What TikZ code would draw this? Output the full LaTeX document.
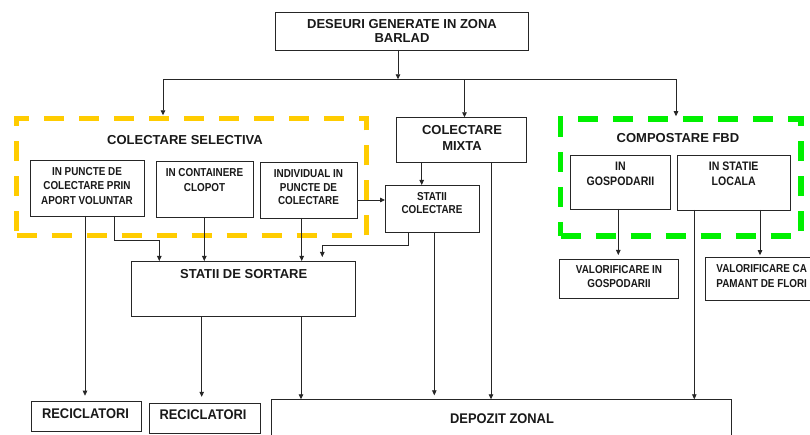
\documentclass[tikz,border=0pt]{standalone}
\usepackage{fontspec}
\setmainfont{Liberation Sans}
\newfontfamily\narrowfont[FakeStretch=0.86]{Liberation Sans}
\newfontfamily\semifont[FakeStretch=0.92]{Liberation Sans}
\usetikzlibrary{arrows.meta}
\definecolor{selorange}{RGB}{255,204,0}
\definecolor{fbdgreen}{RGB}{0,240,0}
\begin{document}
\begin{tikzpicture}[x=1pt,y=-1pt,
  bx/.style={draw=black!85, line width=0.9pt, inner sep=0pt, outer sep=0pt},
  lbl/.style={inner sep=0pt, outer sep=0pt, align=center, text=black!90},
  big/.style={lbl, font=\bfseries\fontsize{13}{14.3}\selectfont},
  sbig/.style={lbl, font=\semifont\bfseries\fontsize{14}{15}\selectfont},
  sml/.style={lbl, font=\narrowfont\bfseries\fontsize{11.5}{14}\selectfont},
  arr/.style={-{Triangle[length=5pt,width=4.5pt]}, line width=0.8pt, draw=black!85},
  plain/.style={line width=0.8pt, draw=black!85},
  grp/.style={line width=5.5pt, dash pattern=on 20pt off 15pt, inner sep=0pt, outer sep=0pt}]
\useasboundingbox (0,0) rectangle (810,435);
\fill[white] (0,0) rectangle (810,435);

% group frames
\node[grp, draw=selorange, minimum width=350pt, minimum height=117.2pt] (sel) at (191.7,176.9) {};
\node[grp, draw=fbdgreen, minimum width=240.3pt, minimum height=116.6pt] (fbd) at (680.65,177.5) {};

% boxes
\node[bx, minimum width=252.5pt, minimum height=37.7pt] (top) at (401.75,31.15) {};
\node[bx, minimum width=114pt, minimum height=56pt] (b1) at (87,188) {};
\node[bx, minimum width=97pt, minimum height=56pt] (b2) at (204.5,189.7) {};
\node[bx, minimum width=97pt, minimum height=55.5pt] (b3) at (308.5,190.25) {};
\node[bx, minimum width=130pt, minimum height=45.4pt] (mixta) at (461.7,140) {};
\node[bx, minimum width=94pt, minimum height=47.3pt] (sc) at (432,208.65) {};
\node[bx, minimum width=100pt, minimum height=53.3pt] (gosp) at (620,182.35) {};
\node[bx, minimum width=112.7pt, minimum height=54.3pt] (loc) at (733.65,182.85) {};
\node[bx, minimum width=119pt, minimum height=39.3pt] (val1) at (618.8,278.65) {};
\node[bx, minimum width=112pt, minimum height=43pt] (val2) at (761.7,279.2) {};
\node[bx, minimum width=224pt, minimum height=55.7pt] (ss) at (243.7,288.85) {};
\node[bx, minimum width=110.7pt, minimum height=29.3pt] (rec1) at (86.35,416.35) {};
\node[bx, minimum width=111.4pt, minimum height=30pt] (rec2) at (205,418.3) {};
\node[bx, minimum width=460pt, minimum height=45.7pt] (dep) at (501.7,422.15) {};

% texts
\node[big, anchor=north] (ttop) at (402,19.6) {DESEURI GENERATE IN ZONA\\BARLAD};
\node[big] (tsel) at (185,140) {COLECTARE SELECTIVA};
\node[sml, anchor=north, font=\narrowfont\bfseries\fontsize{11.5}{14.2}\selectfont] (tb1) at (87,167.6) {IN PUNCTE DE\\COLECTARE PRIN\\APORT VOLUNTAR};
\node[sml, anchor=north, font=\narrowfont\bfseries\fontsize{11.5}{14.6}\selectfont] (tb2) at (204.5,168.6) {IN CONTAINERE\\CLOPOT};
\node[sml, anchor=north, font=\narrowfont\bfseries\fontsize{11.5}{13.9}\selectfont] (tb3) at (308.5,169.2) {INDIVIDUAL IN\\PUNCTE DE\\COLECTARE};
\node[big, anchor=north, font=\bfseries\fontsize{13}{15.7}\selectfont] (tmixta) at (462,125.35) {COLECTARE\\MIXTA};
\node[sml, anchor=north, font=\narrowfont\bfseries\fontsize{11.5}{13.3}\selectfont] (tsc) at (432,192.6) {STATII\\COLECTARE};
\node[big] (tfbd) at (678,137.7) {COMPOSTARE FBD};
\node[sml, anchor=north, font=\narrowfont\bfseries\fontsize{12.3}{15}\selectfont] (tgosp) at (620.5,162.3) {IN\\GOSPODARII};
\node[sml, anchor=north, font=\narrowfont\bfseries\fontsize{12.3}{15}\selectfont] (tloc) at (733.7,162.3) {IN STATIE\\LOCALA};
\node[sml, anchor=north, font=\narrowfont\bfseries\fontsize{11.5}{13.3}\selectfont] (tval1) at (619,265.9) {VALORIFICARE IN\\GOSPODARII};
\node[sml, anchor=north, font=\narrowfont\bfseries\fontsize{11.5}{14.3}\selectfont] (tval2) at (761.7,264.9) {VALORIFICARE CA\\PAMANT DE FLORI};
\node[big] (tss) at (243.7,274) {STATII DE SORTARE};
\node[sbig] (trec1) at (85.5,413.3) {RECICLATORI};
\node[sbig] (trec2) at (203,415) {RECICLATORI};
\node[sbig] (tdep) at (502,418.3) {DEPOZIT ZONAL};

% junction coordinates
\coordinate (j) at (398,79.3);
\coordinate (jl) at (163,79.3);
\coordinate (jm) at (464.5,79.3);
\coordinate (jr) at (676,79.3);
\coordinate (k1) at (114.3,240);
\coordinate (k2) at (159.3,240);
\coordinate (k3) at (408.3,245);
\coordinate (k4) at (322.3,245);

% connectors
\draw[arr] (top.south -| j) -- (j);
\draw[plain] (jl) -- ([xshift=1pt]jr);
\draw[arr] (jl) -- ([yshift=3pt]sel.north -| jl);
\draw[arr] (jm) -- (mixta.north -| jm);
\draw[arr] (jr) -- ([yshift=3pt]fbd.north -| jr);
\draw[arr] (mixta.south -| 421.7,0) -- (sc.north -| 421.7,0);
\draw[arr] (b3.east |- 0,200) -- (sc.west |- 0,200);
\draw[arr] (b1.south -| 85,0) -- ([yshift=6pt]rec1.north -| 85,0);
\draw[arr] (b1.south -| k1) -- (k1) -- (k2) -- (ss.north -| k2);
\draw[arr] (b2.south -| 204.3,0) -- (ss.north -| 204.3,0);
\draw[arr] (b3.south -| 301.7,0) -- (ss.north -| 301.7,0);
\draw[arr] (sc.south -| k3) -- (k3) -- (k4) -- ([yshift=4pt]ss.north -| k4);
\draw[arr] (sc.south -| 434.3,0) -- ([yshift=4pt]dep.north -| 434.3,0);
\draw[arr] (mixta.south -| 491,0) -- (dep.north -| 491,0);
\draw[arr] (ss.south -| 201.7,0) -- ([yshift=6.5pt]rec2.north -| 201.7,0);
\draw[arr] (ss.south -| 301,0) -- (dep.north -| 301,0);
\draw[arr] (gosp.south -| 618.3,0) -- ([yshift=4pt]val1.north -| 618.3,0);
\draw[arr] (loc.south -| 694.3,0) -- (dep.north -| 694.3,0);
\draw[arr] (loc.south -| 760,0) -- ([yshift=2.5pt]val2.north -| 760,0);
\end{tikzpicture}
\end{document}
